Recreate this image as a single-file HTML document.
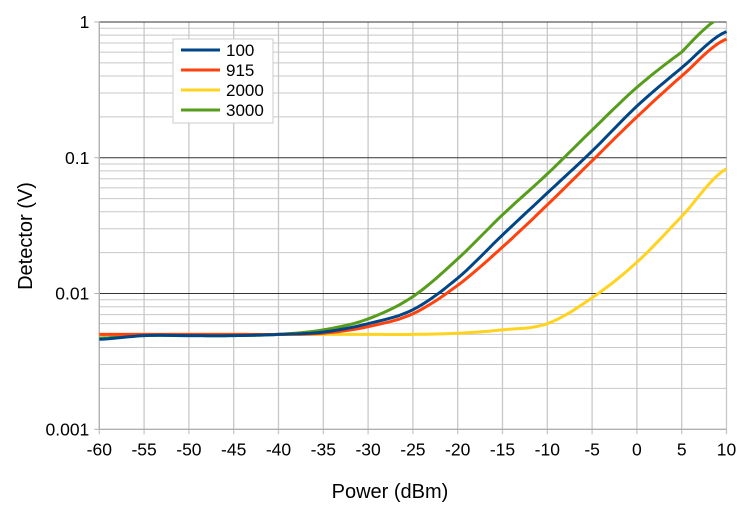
<!DOCTYPE html>
<html><head><meta charset="utf-8"><style>
html,body{margin:0;padding:0;background:#fff;}
svg{display:block;font-family:"Liberation Sans",sans-serif;}
</style></head><body>
<svg id="c" width="755" height="511" viewBox="0 0 755 511" xmlns="http://www.w3.org/2000/svg">
<rect width="755" height="511" fill="#fff"/>
<g id="grid"></g>
<g id="series" fill="none" stroke-width="3" stroke-linejoin="round"></g>
<g id="labels" font-size="17.5" fill="#000"></g>
<text x="390" y="498" font-size="20" text-anchor="middle">Power (dBm)</text>
<text transform="translate(32,236) rotate(-90)" font-size="20" text-anchor="middle">Detector (V)</text>
<rect x="173" y="39" width="100" height="84" fill="#fff" stroke="#ccc" stroke-width="1"/>
<g font-size="17">
<line x1="181" y1="50" x2="220" y2="50" stroke="#004586" stroke-width="3"/><text x="226" y="56">100</text>
<line x1="181" y1="70" x2="220" y2="70" stroke="#ff420e" stroke-width="3"/><text x="226" y="76">915</text>
<line x1="181" y1="90" x2="220" y2="90" stroke="#ffd320" stroke-width="3"/><text x="226" y="96">2000</text>
<line x1="181" y1="110" x2="220" y2="110" stroke="#579d1c" stroke-width="3"/><text x="226" y="116">3000</text>
</g>
</svg>
<script>
var L=99.3,R=726.5,T=22,B=429.3,D=(B-T)/3;
function X(p){return L+(p+60)*(R-L)/70;}
function Y(v){return B-(Math.log10(v)+3)*D;}
var ns="http://www.w3.org/2000/svg";
function el(g,n,a,t){var e=document.createElementNS(ns,n);for(var k in a)e.setAttribute(k,a[k]);if(t)e.textContent=t;document.getElementById(g).appendChild(e);return e;}
for(var d=-3;d<0;d++)for(var m=2;m<10;m++){var y=Y(m*Math.pow(10,d));el("grid","line",{x1:L,x2:R,y1:y,y2:y,stroke:"#c8c8c8","stroke-width":1});}
for(var p=-60;p<=10;p+=5){var x=X(p);el("grid","line",{x1:x,x2:x,y1:T,y2:B+5,stroke:"#c8c8c8","stroke-width":1.3});
el("labels","text",{x:x,y:B+26,"text-anchor":"middle"},(p<0?"-":"")+Math.abs(p));}
var yl=["0.001","0.01","0.1","1"];
for(var d=0;d<4;d++){var y=Y(Math.pow(10,d-3));el("grid","line",{x1:L-5,x2:L,y1:y,y2:y,stroke:"#b0b0b0","stroke-width":1});
el("grid","line",{x1:L,x2:R,y1:y,y2:y,stroke:d==0?"#b0b0b0":"#333","stroke-width":d==0?1.3:1});
el("labels","text",{x:L-10,y:y+6,"text-anchor":"end"},yl[d]);}
el("grid","line",{x1:L,x2:L,y1:T,y2:B,stroke:"#b0b0b0","stroke-width":1.3});
var S=[
["#579d1c",[[-60,0.0047],[-55,0.0049],[-50,0.0049],[-45,0.0049],[-40,0.005],[-35,0.0054],[-30,0.0065],[-25,0.0095],[-20,0.018],[-15,0.038],[-10,0.076],[-5,0.16],[0,0.33],[5,0.6],[8.5,1.0],[10,1.3]]],
["#ffd320",[[-60,0.005],[-55,0.005],[-50,0.005],[-45,0.005],[-40,0.005],[-35,0.005],[-30,0.005],[-25,0.005],[-20,0.0051],[-15,0.0054],[-10,0.006],[-5,0.0093],[0,0.017],[5,0.037],[10,0.083]]],
["#ff420e",[[-60,0.005],[-55,0.005],[-50,0.005],[-45,0.005],[-40,0.005],[-35,0.0051],[-30,0.0057],[-25,0.0071],[-20,0.0115],[-15,0.022],[-10,0.045],[-5,0.095],[0,0.2],[5,0.4],[10,0.75]]],
["#004586",[[-60,0.0046],[-55,0.0049],[-50,0.0049],[-45,0.0049],[-40,0.005],[-35,0.0052],[-30,0.006],[-25,0.0076],[-20,0.013],[-15,0.027],[-10,0.055],[-5,0.112],[0,0.24],[5,0.46],[10,0.85]]]
];
S.forEach(function(s){var a=s[1],pts=[];
for(var i=0;i<a.length-1;i++){var p0=a[Math.max(i-1,0)],p1=a[i],p2=a[i+1],p3=a[Math.min(i+2,a.length-1)];
var l0=Math.log10(p0[1]),l1=Math.log10(p1[1]),l2=Math.log10(p2[1]),l3=Math.log10(p3[1]);
for(var k=0;k<10;k++){var t=k/10;var v=0.5*((2*l1)+(-l0+l2)*t+(2*l0-5*l1+4*l2-l3)*t*t+(-l0+3*l1-3*l2+l3)*t*t*t);
var px=p1[0]+(p2[0]-p1[0])*t;pts.push(X(px).toFixed(1)+","+Y(Math.pow(10,v)).toFixed(1));}}
pts.push(X(a[a.length-1][0]).toFixed(1)+","+Y(a[a.length-1][1]).toFixed(1));
el("series","polyline",{points:pts.join(" "),stroke:s[0],"clip-path":"url(#cp)"});});
var cp=document.createElementNS(ns,"clipPath");cp.setAttribute("id","cp");var r=document.createElementNS(ns,"rect");
r.setAttribute("x",L-2);r.setAttribute("y",T);r.setAttribute("width",R-L+4);r.setAttribute("height",B-T);cp.appendChild(r);document.getElementById("c").appendChild(cp);
</script>
</body></html>
